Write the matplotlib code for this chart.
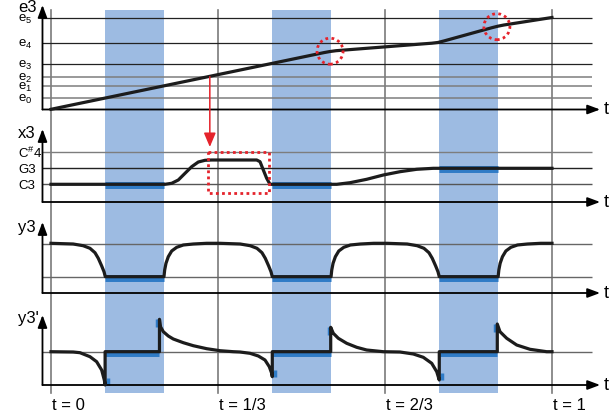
import matplotlib.pyplot as plt
from matplotlib.patches import Ellipse

plt.rcParams['font.family'] = ['Liberation Sans', 'DejaVu Sans']
plt.rcParams['mathtext.fontset'] = 'custom'
plt.rcParams['mathtext.rm'] = 'Liberation Sans'
plt.rcParams['mathtext.it'] = 'Liberation Sans:italic'

# time marks and the three highlighted intervals
t_marks = [0, 1/3, 2/3, 1]
t_labels = ['t = 0', 't = 1/3', 't = 2/3', 't = 1']
band_start = [0.108, 0.4415, 0.775]
band_end = [0.2255, 0.559, 0.8925]

# e3 panel
e_levels = [11.8, 23.5, 32.8, 45.5, 66.2, 91.2]
e_names = ['e_0', 'e_1', 'e_2', 'e_3', 'e_4', 'e_5']
e_t = [0, 0.545, 0.557, 0.569, 0.760, 0.772, 0.784, 0.880, 0.892, 0.904, 1.0]
e_v = [0.2, 56.9, 58.0, 58.8, 66.3, 67.0, 68.5, 81.8, 83.3, 84.5, 92.0]
circle_t = [0.557, 0.890]
circle_v = [58.3, 82.8]

# x3 panel (pitch)
x_levels = [17.7, 33.7, 49.7]
x_names = ['C3', 'G3', r'C$^{\#}$4']
x_t = [0, 0.2275, 0.2409, 0.2541, 0.2675, 0.2808, 0.2940, 0.3074, 0.3208,
       0.4106, 0.4172, 0.4238, 0.4305, 0.4371,
       0.5703, 0.5968, 0.6301, 0.6633, 0.6966, 0.7299, 0.7631, 1.0]
x_v = [17.7, 17.7, 18.7, 22.0, 28.7, 35.3, 40.0, 41.7, 42.0,
       42.0, 40.3, 32.0, 23.7, 17.7,
       17.7, 19.3, 22.7, 27.0, 30.3, 32.7, 33.7, 33.7]
x_hold = [17.7, 17.7, 33.7]
box_t = [0.314, 0.435]
box_v = [9, 50]

# y3 panel
y_levels = [16.3, 49.0]
y_t = [0, 0.0443, 0.0642, 0.0778, 0.0878, 0.0944, 0.1012, 0.1058, 0.1084,
       0.2255, 0.2269, 0.2295, 0.2341, 0.2409, 0.2509, 0.2641, 0.2840, 0.3108,
       0.3373, 0.3776, 0.3975, 0.4111, 0.4211, 0.4277, 0.4345, 0.4391, 0.4417,
       0.559, 0.5604, 0.5630, 0.5676, 0.5744, 0.5844, 0.5976, 0.6175, 0.6443,
       0.6706, 0.7109, 0.7308, 0.7444, 0.7544, 0.7610, 0.7678, 0.7724, 0.775,
       0.8925, 0.8939, 0.8965, 0.9011, 0.9079, 0.9179, 0.9311, 0.9510, 0.9778, 1.0]
y_v = [49.7, 49.0, 47.3, 44.7, 40.3, 34.7, 27.0, 21.3, 16.3,
       16.3, 23.0, 29.7, 36.3, 42.0, 45.7, 48.0, 49.0, 49.7,
       49.7, 49.0, 47.3, 44.7, 40.3, 34.7, 27.0, 21.3, 16.3,
       16.3, 23.0, 29.7, 36.3, 42.0, 45.7, 48.0, 49.0, 49.7,
       49.7, 49.0, 47.3, 44.7, 40.3, 34.7, 27.0, 21.3, 16.3,
       16.3, 23.0, 29.7, 36.3, 42.0, 45.7, 48.0, 49.0, 49.7, 49.7]
y_hold = [16.3, 16.3, 16.3]

# y3' panel
d_levels = [32.7]
d_t = [0, 0.0443, 0.0578, 0.0778, 0.0911, 0.1011, 0.1064, 0.108,
       0.108, 0.2165, 0.2165,
       0.2185, 0.2242, 0.2341, 0.2441, 0.2641, 0.2840, 0.3108, 0.3373, 0.3639,
       0.3772, 0.3972, 0.4138, 0.4271, 0.4357, 0.4405, 0.4417,
       0.4417, 0.5583, 0.5583,
       0.5635, 0.5735, 0.5902, 0.6102, 0.6301, 0.6633,
       0.6966, 0.7232, 0.7431, 0.7599, 0.7699, 0.775,
       0.775, 0.8908, 0.8908,
       0.8962, 0.9096, 0.9295, 0.9561, 0.9894, 1.0]
d_v = [33.3, 33.0, 32.3, 28.3, 23.3, 15.0, 5.0, 0.0,
       33.3, 33.3, 65.7,
       58.3, 53.3, 49.0, 46.0, 42.3, 39.3, 36.3, 34.3, 33.3,
       33.0, 31.7, 29.0, 25.0, 18.3, 11.7, 8.3,
       33.3, 33.3, 57.7,
       51.7, 46.7, 41.7, 37.7, 35.0, 33.3,
       33.0, 31.0, 27.7, 21.7, 13.3, 5.0,
       33.3, 33.3, 61.0,
       53.3, 46.7, 40.0, 35.7, 33.3, 33.3]
d_hold = [33.3, 33.3, 33.3]
d_low = [0.0, 8.3, 5.0]
d_jump = [0.2165, 0.5583, 0.8908]
d_peak = [65.7, 57.7, 61.0]

W, H = 612, 419
X0, X1 = -51 / 501, (W - 51) / 501
band_col = '#9dbbe2'
hold_col = '#2f7bc6'
red = '#e5232b'
ink = '#1c1c1c'

fig = plt.figure(figsize=(W / 100, H / 100), dpi=100)

bg = fig.add_axes([0, 0, 1, 1])
bg.set_xlim(X0, X1)
bg.set_ylim(0, 1)
bg.axis('off')
for s, e in zip(band_start, band_end):
    bg.axvspan(s, e, ymin=26 / H, ymax=(H - 10) / H, color=band_col, lw=0)
for t in t_marks:
    bg.axvline(t, ymin=26 / H, ymax=(H - 10) / H, color='#7a7a7a', lw=1.2)


def panel(p0, p1, base):
    ax = fig.add_axes([0, (H - p1) / H, 1, (p1 - p0) / H])
    ax.set_xlim(X0, X1)
    ax.set_ylim(base - p1, base - p0)
    ax.axis('off')
    return ax


def arrows(ax, top, name, name_v):
    head = dict(arrowstyle='-|>,head_length=0.75,head_width=0.28', color='black',
                lw=1.3, shrinkA=0, shrinkB=0)
    ax.annotate('', xy=(1.096, 0), xytext=(-0.017, 0), arrowprops=head)
    ax.annotate('', xy=(-0.017, top), xytext=(-0.017, 0), arrowprops=head)
    ax.text(1.103, 0, 't', fontsize=13, va='center', ha='left')
    ax.text(-0.066, name_v, name, fontsize=12, va='center', ha='left')


def level_labels(ax, levels, names, size):
    for lv, nm in zip(levels, names):
        if nm.startswith('e'):
            nm = r'$\mathregular{' + nm + '}$'
        ax.text(-0.066, lv - 1.5, nm, fontsize=size, va='center', ha='left')


# e3
ax1 = panel(0, 116, 109.5)
ax1.hlines(e_levels[:3], -0.017, 1.08, color='#7d7d7d', lw=1.1)
ax1.hlines(e_levels[3:], -0.017, 1.08, color='#222222', lw=0.9)
arrows(ax1, 104.5, 'e3', 102.5)
level_labels(ax1, e_levels, e_names, 9.5)
ax1.plot(e_t, e_v, color=ink, lw=2.3, zorder=3)
for ct, cv in zip(circle_t, circle_v):
    ax1.add_patch(Ellipse((ct, cv), 26 / 501, 26, fill=False, ec=red, lw=2,
                          ls=(0, (1, 1.2)), zorder=4))

# x3
ax2 = panel(116, 208, 202)
ax2.hlines(x_levels, -0.017, 1.08, color=['#555555', '#222222', '#7d7d7d'], lw=1)
arrows(ax2, 73, 'x3', 68)
level_labels(ax2, x_levels, x_names, 9.5)
ax2.hlines([v - 1 for v in x_hold], band_start, band_end, color=hold_col, lw=5, zorder=2)
ax2.plot(x_t, x_v, color=ink, lw=2.3, zorder=3)
ax2.plot([box_t[0], box_t[1], box_t[1], box_t[0], box_t[0]],
         [box_v[1], box_v[1], box_v[0], box_v[0], box_v[1]],
         color=red, lw=2, ls=(0, (1, 1.2)), zorder=4)
ax2.annotate('', xy=(0.317, 55), xytext=(0.317, 32.8), textcoords=ax1.transData,
             arrowprops=dict(arrowstyle='-|>,head_length=0.85,head_width=0.36',
                             color=red, lw=1.1, shrinkA=0, shrinkB=0), zorder=4)

# y3
ax3 = panel(208, 298, 293)
ax3.hlines(y_levels, -0.017, 1.08, color='#666666', lw=1)
arrows(ax3, 71, 'y3', 66)
ax3.hlines([v - 1 for v in y_hold], band_start, band_end, color=hold_col, lw=5, zorder=2)
ax3.plot(y_t, y_v, color=ink, lw=2.3, zorder=3)

# y3'
ax4 = panel(298, H, 385)
ax4.hlines(d_levels, -0.017, 1.08, color='#666666', lw=1)
arrows(ax4, 70, "y3'", 67)
ax4.hlines([v - 1 for v in d_hold], band_start, d_jump, color=hold_col, lw=5, zorder=2)
for s, lo, j, pk in zip(band_start, d_low, d_jump, d_peak):
    ax4.vlines(s + 0.005, lo, lo + 7, color=hold_col, lw=2.5, zorder=2)
    ax4.vlines(j - 0.004, pk - 8, pk, color=hold_col, lw=2.5, zorder=2)
ax4.plot(d_t, d_v, color=ink, lw=2.3, zorder=3)
for t, lab in zip(t_marks, t_labels):
    ax4.text(t + 0.002, -20, lab, fontsize=12, va='center', ha='left')

fig.savefig('out.png', dpi=100)
